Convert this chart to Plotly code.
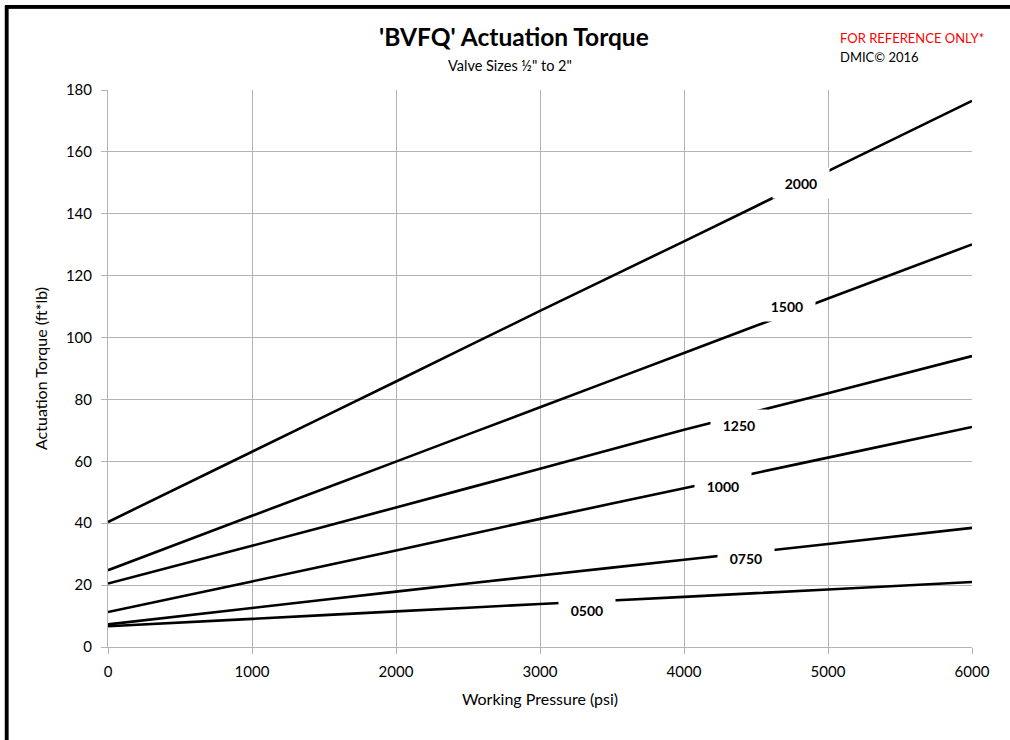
import plotly.graph_objects as go

pressure = [0, 1000, 2000, 3000, 4000, 5000, 6000]
s2000 = [40.4, 63.1, 85.8, 108.6, 131.1, 153.8, 176.5]
s1500 = [24.8, 42.4, 59.9, 77.5, 95.0, 112.6, 130.1]
s1250 = [20.5, 32.7, 45.1, 57.6, 70.2, 82.0, 94.0]
s1000 = [11.3, 21.2, 31.2, 41.4, 51.3, 61.2, 71.1]
s0750 = [7.3, 12.6, 17.9, 23.1, 28.2, 33.3, 38.5]
s0500 = [6.7, 9.1, 11.5, 13.9, 16.2, 18.6, 21.0]

series_names = ["2000", "1500", "1250", "1000", "0750", "0500"]
series_values = [s2000, s1500, s1250, s1000, s0750, s0500]
label_x = [4810, 4713, 4382, 4273, 4428, 3324]
label_y = [149.8, 110.1, 71.7, 51.9, 28.8, 11.9]
y_ticks = [0, 20, 40, 60, 80, 100, 120, 140, 160, 180]

FONT = "Lato"
GRID = "#b4b4b4"

L, R, T, B = 108, 38, 90, 93
W, H = 1010, 740
PW, PH = W - L - R, H - T - B


def px(x):
    return (x - L) / PW


def py(y):
    return (H - B - y) / PH


fig = go.Figure()
for name, vals in zip(series_names, series_values):
    fig.add_trace(go.Scatter(x=pressure, y=vals, mode="lines", name=name,
                             line=dict(color="black", width=2.6, shape="spline", smoothing=0.6),
                             showlegend=False))

for name, lx, ly in zip(series_names, label_x, label_y):
    fig.add_annotation(x=lx, y=ly, xref="x", yref="y", text="<b>%s</b>" % name,
                       showarrow=False, bgcolor="white", width=54, height=28,
                       xanchor="center", yanchor="middle",
                       font=dict(family=FONT, size=14, color="black"))

fig.add_annotation(x=px(514), y=py(37), xref="paper", yref="paper",
                   xanchor="center", yanchor="middle",
                   text="<b>'BVFQ' Actuation Torque</b>", showarrow=False,
                   font=dict(family=FONT, size=24.5, color="black"))
fig.add_annotation(x=px(510), y=py(66), xref="paper", yref="paper",
                   xanchor="center", yanchor="middle",
                   text="Valve Sizes ½\" to 2\"", showarrow=False,
                   font=dict(family=FONT, size=14.5, color="black"))
fig.add_annotation(x=px(838), y=py(38), xref="paper", yref="paper",
                   xanchor="left", yanchor="middle",
                   text="FOR REFERENCE ONLY*", showarrow=False,
                   font=dict(family=FONT, size=13, color="#ff0000"))
fig.add_annotation(x=px(838), y=py(57), xref="paper", yref="paper",
                   xanchor="left", yanchor="middle",
                   text="DMIC© 2016", showarrow=False,
                   font=dict(family=FONT, size=13, color="black"))

# outer frame: top and left edges (the rest lies outside the page)
fig.add_annotation(x=px(5), y=py(5), xref="paper", yref="paper",
                   xanchor="left", yanchor="top", text=" ", showarrow=False,
                   width=1100, height=900, borderpad=0,
                   bordercolor="black", borderwidth=3.5, bgcolor="rgba(0,0,0,0)")
fig.add_shape(type="line", xref="paper", yref="paper",
              x0=px(5), x1=px(1010), y0=py(7), y1=py(7),
              line=dict(color="black", width=3.5), layer="above")
fig.add_shape(type="line", xref="paper", yref="paper",
              x0=px(6.5), x1=px(6.5), y0=py(5.5), y1=py(740),
              line=dict(color="black", width=3.5), layer="above")

fig.update_layout(
    width=W, height=H,
    margin=dict(l=L, r=R, t=T, b=B),
    paper_bgcolor="white", plot_bgcolor="white",
    font=dict(family=FONT, size=15, color="black"),
    xaxis=dict(range=[0, 6000], tickvals=pressure, showgrid=True, gridcolor=GRID, gridwidth=1,
               showline=True, linecolor=GRID, linewidth=1, ticks="outside", tickcolor=GRID,
               ticklen=6, zeroline=False, mirror=False, ticklabelstandoff=5,
               tickfont=dict(family=FONT, size=15),
               title=dict(text="Working Pressure (psi)", font=dict(family=FONT, size=16), standoff=14)),
    yaxis=dict(range=[0, 180], tickvals=y_ticks,
               showgrid=True, gridcolor=GRID, gridwidth=1,
               showline=True, linecolor=GRID, linewidth=1, ticks="outside", tickcolor=GRID,
               ticklen=6, zeroline=False,
               tickfont=dict(family=FONT, size=15), ticklabelstandoff=6,
               title=dict(text="Actuation Torque (ft*lb)", font=dict(family=FONT, size=16), standoff=14)),
)

fig.write_html("out.html", config={"displayModeBar": False},
               post_script="document.body.style.margin='0';document.body.style.overflow='hidden';")
